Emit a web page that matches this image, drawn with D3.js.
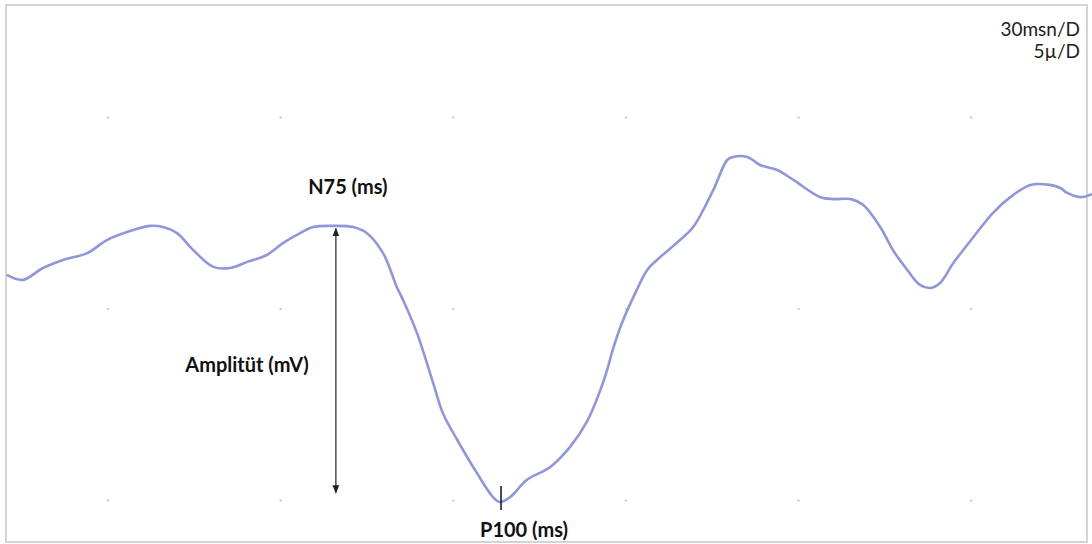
<!DOCTYPE html>
<html>
<head>
<meta charset="utf-8">
<script src="https://cdn.jsdelivr.net/npm/d3@7"></script>
<style>
  body { margin: 0; background: #fff; }
  svg { display: block; font-family: Lato, "Open Sans", sans-serif; }
</style>
</head>
<body>
<div id="chart"></div>
<script>
// VEP trace: time (ms) and amplitude (µV)
const timeMs = [12.4, 15.2, 18.7, 22.2, 26.4, 29.8, 33.3, 37.3, 39.6, 42.0, 44.8, 48.3, 51.2, 54.2, 57.6,
  60.4, 63.4, 65.6, 69.1, 72.6, 75.0, 77.8, 80.2, 81.3, 83.7, 86.5, 88.2, 90.7, 94.1, 96.9, 98.1, 99.9,
  102.8, 106.8, 110.3, 113.3, 115.5, 116.9, 117.6, 119.3, 121.3, 123.7, 125.4, 129.4, 131.7, 135.2,
  137.6, 138.6, 141.1, 143.3, 146.3, 149.1, 153.8, 156.0, 159.0, 161.2, 164.2, 166.4, 168.9, 171.1,
  172.9, 174.6, 176.9, 180.4, 183.8, 186.8, 190.3, 193.7, 195.5, 196.7, 199.0, 201.0];
const amplitude = [0.89, 0.76, 1.07, 1.28, 1.46, 1.80, 2.01, 2.17, 2.14, 1.98, 1.54, 1.10, 1.07, 1.23, 1.41,
  1.72, 1.98, 2.14, 2.17, 2.14, 1.98, 1.46, 0.57, 0.23, -0.63, -1.93, -2.72, -3.42, -4.28, -4.91, -5.04, -4.91,
  -4.46, -4.13, -3.60, -2.92, -2.14, -1.51, -1.12, -0.37, 0.31, 1.02, 1.28, 1.80, 2.14, 3.11,
  3.89, 3.97, 3.97, 3.76, 3.63, 3.37, 2.92, 2.87, 2.87, 2.72, 2.14, 1.54, 1.02, 0.63,
  0.55, 0.68, 1.20, 1.88, 2.51, 2.92, 3.24, 3.24, 3.16, 3.03, 2.92, 3.00];

// grid: 30 ms / division, 5 µV / division
const gridTimes = [30, 60, 90, 120, 150, 180];
const gridAmps = [5, 0, -5];
const scaleLabels = ["30msn/D", "5µ/D"];

// annotations
const n75 = { t: 69.6, v: 2.12, label: "N75 (ms)" };
const p100 = { t: 98.3, v: -5.04, label: "P100 (ms)" };
const arrowEnds = [2.1, -4.8];
const ampLabel = "Amplitüt (mV)";

const width = 1092, height = 544;

const x = d3.scaleLinear().domain([11.23, 201.0]).range([0, width]);
const y = d3.scaleLinear().domain([0, 5]).range([309, 117.5]);

const svg = d3.select("#chart").append("svg")
    .attr("width", width)
    .attr("height", height);

svg.append("defs").append("marker")
    .attr("id", "head")
    .attr("viewBox", "0 0 10 10")
    .attr("refX", 9).attr("refY", 5)
    .attr("markerWidth", 7).attr("markerHeight", 7)
    .attr("orient", "auto-start-reverse")
    .append("path")
    .attr("d", "M0,1 L10,5 L0,9 Z")
    .attr("fill", "#222");

// frame
svg.append("rect")
    .attr("x", 6).attr("y", 5)
    .attr("width", 1081).attr("height", 537)
    .attr("fill", "none")
    .attr("stroke", "#d4d4d4")
    .attr("stroke-width", 2);

// grid dots
const dots = gridAmps.flatMap(v => gridTimes.map(t => ({ t, v })));
svg.append("g")
    .attr("fill", "#d0d0d0")
    .selectAll("circle")
    .data(dots)
    .join("circle")
    .attr("cx", d => x(d.t))
    .attr("cy", d => y(d.v))
    .attr("r", 1.3);

// trace
const trace = timeMs.map((t, i) => ({ t, v: amplitude[i] }));
const line = d3.line()
    .x(d => x(d.t))
    .y(d => y(d.v))
    .curve(d3.curveCatmullRom.alpha(0.5));

svg.append("path")
    .datum(trace)
    .attr("fill", "none")
    .attr("stroke", "#8f97d8")
    .attr("stroke-width", 2.6)
    .attr("stroke-linejoin", "round")
    .attr("d", line);

// amplitude arrow
svg.append("line")
    .attr("x1", x(n75.t)).attr("x2", x(n75.t))
    .attr("y1", y(arrowEnds[0])).attr("y2", y(arrowEnds[1]))
    .attr("stroke", "#222")
    .attr("stroke-width", 1.2)
    .attr("marker-start", "url(#head)")
    .attr("marker-end", "url(#head)");

// P100 tick
svg.append("line")
    .attr("x1", x(p100.t)).attr("x2", x(p100.t))
    .attr("y1", y(p100.v) - 16).attr("y2", y(p100.v) + 8)
    .attr("stroke", "#111")
    .attr("stroke-width", 1.5);

// labels
svg.append("text")
    .attr("x", x(n75.t) + 12).attr("y", 194)
    .attr("text-anchor", "middle")
    .attr("font-size", 20).attr("font-weight", 700)
    .attr("fill", "#111")
    .text(n75.label);

svg.append("text")
    .attr("x", 247).attr("y", 372)
    .attr("text-anchor", "middle")
    .attr("font-size", 20).attr("font-weight", 700)
    .attr("fill", "#111")
    .text(ampLabel);

svg.append("text")
    .attr("x", x(p100.t) + 23).attr("y", 537)
    .attr("text-anchor", "middle")
    .attr("font-size", 20).attr("font-weight", 700)
    .attr("fill", "#111")
    .text(p100.label);

svg.append("g")
    .selectAll("text")
    .data(scaleLabels)
    .join("text")
    .attr("x", 1080)
    .attr("y", (d, i) => 36 + i * 22)
    .attr("text-anchor", "end")
    .attr("font-size", 19)
    .attr("fill", "#222")
    .text(d => d);
</script>
</body>
</html>
